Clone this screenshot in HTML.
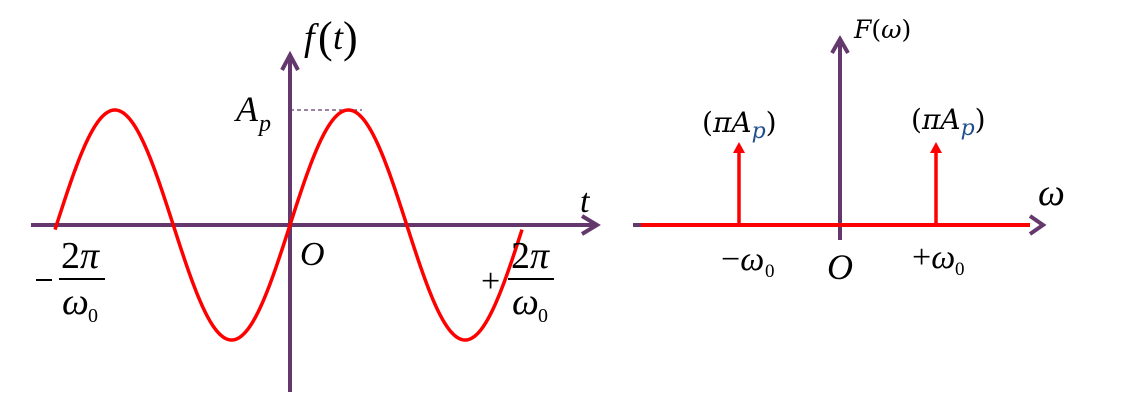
<!DOCTYPE html>
<html><head><meta charset="utf-8"><style>
html,body{margin:0;padding:0;background:#fff}
svg{display:block}
.t{font-family:"Liberation Serif",serif;font-style:italic;fill:#000}
.n{font-family:"Liberation Serif",serif;fill:#000}
.c{font-family:"DejaVu Serif","Liberation Serif",serif;fill:#000}
</style></head><body>
<svg width="1121" height="408" viewBox="0 0 1121 408" xmlns="http://www.w3.org/2000/svg">
<line x1="31" y1="225" x2="594" y2="225" stroke="#64386c" stroke-width="4"/>
<polyline points="582,216 597,225 582,234" fill="none" stroke="#64386c" stroke-width="4"/>
<line x1="290" y1="392" x2="290" y2="56" stroke="#64386c" stroke-width="4"/>
<polyline points="282,70 290,55 298,70" fill="none" stroke="#64386c" stroke-width="4"/>
<line x1="290" y1="110" x2="362" y2="110" stroke="#64386c" stroke-width="1.2" stroke-dasharray="4,3"/>
<path id="sine" fill="none" stroke="#f00" stroke-width="3.5" d=""/>
<script>
(function(){var d="";for(var x=55;x<=522;x+=1){var y=225-115*Math.sin(2*Math.PI*(x-290)/233.5);d+=(x==55?"M":"L")+x+","+y.toFixed(2);}document.getElementById("sine").setAttribute("d",d);})();
</script>
<text class="t" x="304" y="50" font-size="38">f</text>
<text class="n" x="318" y="52" font-size="44">(</text>
<text class="t" x="333" y="49" font-size="36">t</text>
<text class="n" x="343" y="52" font-size="44">)</text>
<text class="t" x="236" y="121" font-size="36">A</text>
<text class="t" x="259" y="131" font-size="24">p</text>
<text class="t" x="580" y="212" font-size="34">t</text>
<text class="t" x="300" y="265" font-size="34">O</text>
<line x1="36" y1="280" x2="52" y2="280" stroke="#000" stroke-width="2"/>
<text class="n" x="61" y="268" font-size="38">2<tspan font-style="italic">π</tspan></text>
<line x1="59" y1="279" x2="105" y2="279" stroke="#000" stroke-width="2"/>
<text class="t" x="62" y="314" font-size="38">ω</text>
<text class="n" x="88" y="322" font-size="20">0</text>
<text class="n" x="481" y="292" font-size="34">+</text>
<text class="n" x="511" y="268" font-size="38">2<tspan font-style="italic">π</tspan></text>
<line x1="508" y1="279" x2="554" y2="279" stroke="#000" stroke-width="2"/>
<text class="t" x="512" y="314" font-size="38">ω</text>
<text class="n" x="538" y="322" font-size="20">0</text>
<line x1="840" y1="240" x2="840" y2="42" stroke="#64386c" stroke-width="4"/>
<polyline points="832,53 840,39 848,53" fill="none" stroke="#64386c" stroke-width="4"/>
<line x1="633" y1="225" x2="642" y2="225" stroke="#64386c" stroke-width="4"/>
<line x1="641" y1="225" x2="1030" y2="225" stroke="#f00" stroke-width="4"/>
<polyline points="1030,216 1043,225 1030,234" fill="none" stroke="#64386c" stroke-width="4"/>
<line x1="739" y1="225" x2="739" y2="150" stroke="#f00" stroke-width="3.5"/>
<polygon points="733,153 739,142 745,153" fill="#f00"/>
<line x1="936" y1="225" x2="936" y2="150" stroke="#f00" stroke-width="3.5"/>
<polygon points="930,153 936,142 942,153" fill="#f00"/>
<text class="c" x="854" y="38" font-size="25"><tspan font-style="italic">F</tspan>(<tspan font-style="italic">ω</tspan>)</text>
<text class="c" x="702" y="132" font-size="28">(<tspan font-style="italic">πA</tspan><tspan font-style="italic" font-size="22" dy="6" fill="#1f4e8c">p</tspan><tspan dy="-6">)</tspan></text>
<text class="c" x="911" y="129" font-size="28">(<tspan font-style="italic">πA</tspan><tspan font-style="italic" font-size="22" dy="6" fill="#1f4e8c">p</tspan><tspan dy="-6">)</tspan></text>
<text class="t" x="1038" y="205" font-size="38">ω</text>
<text class="n" x="721" y="270" font-size="34">−<tspan font-style="italic">ω</tspan></text>
<text class="n" x="765" y="277" font-size="19">0</text>
<text class="t" x="827" y="279" font-size="36">O</text>
<text class="n" x="912" y="268" font-size="34">+<tspan font-style="italic">ω</tspan></text>
<text class="n" x="955" y="275" font-size="19">0</text>
</svg>
</body></html>
